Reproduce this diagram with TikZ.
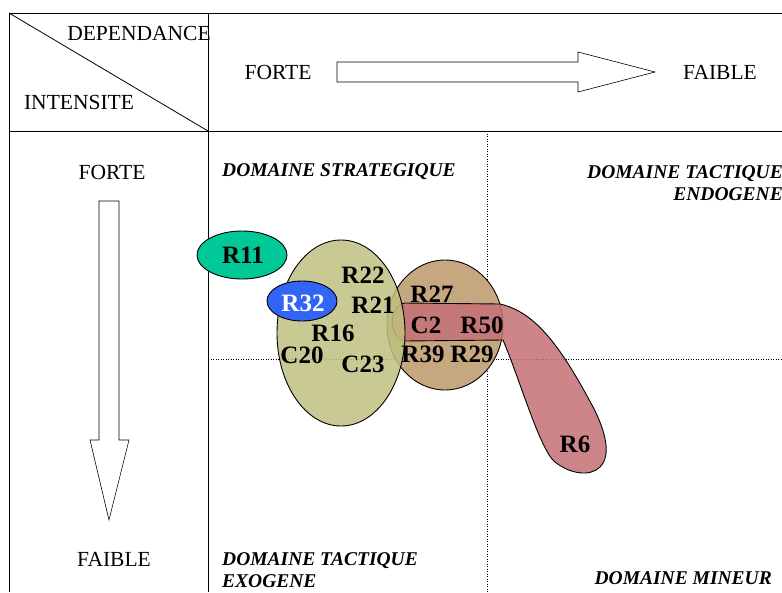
\documentclass[tikz,border=0pt]{standalone}
\usepackage{fontspec}
\setmainfont{Liberation Serif}
\usepackage{tikz}
\definecolor{olivezone}{RGB}{192,192,128}
\definecolor{brownzone}{RGB}{198,168,128}
\definecolor{redzone}{RGB}{196,112,118}
\definecolor{greenzone}{RGB}{0,200,150}
\definecolor{bluezone}{RGB}{50,100,245}
\tikzstyle{frame}=[line width=0.8pt]
\tikzstyle{grid}=[line width=0.5pt,dash pattern=on 1pt off 1.5pt]
\tikzstyle{head}=[inner sep=0pt,font=\fontsize{21.5}{25}\selectfont]
\tikzstyle{dom}=[inner sep=0pt,font=\fontsize{19.5}{22.5}\selectfont\bfseries\itshape]
\tikzstyle{var}=[inner sep=0pt,font=\fontsize{25}{28}\selectfont\bfseries]
\tikzstyle{area}=[draw=black,line width=0.9pt]
\tikzstyle{block}=[draw,line width=0.6pt,fill=white]

\begin{document}
\begin{tikzpicture}[x=1pt,y=-1pt]
        \useasboundingbox (0,0) rectangle (782,592);
        % table
        \draw[frame] (782,13) -- (9,13) -- (9,592);
        \draw[frame] (208,13) -- (208,592);
        \draw[frame] (9,131) -- (782,131);
        \draw[frame] (9,13) -- (208,131);
        \draw[grid] (487,131) -- (487,592);
        \draw[grid] (208,359) -- (782,359);
        % headers
        \node[head] (dep) at (139,33) {DEPENDANCE};
        \node[head] (int) at (79,102) {INTENSITE};
        \node[head] (forteH) at (278,72) {FORTE};
        \node[head] (faibleH) at (720,72) {FAIBLE};
        \node[head] (forteV) at (112,172) {FORTE};
        \node[head] (faibleV) at (114,559) {FAIBLE};
        \draw[block] (337,62) -- (578,62) -- (578,52) -- (655,72)
            -- (578,92) -- (578,82) -- (337,82) -- cycle;
        \draw[block] (99,201) -- (119,201) -- (119,440) -- (129,440)
            -- (109,520) -- (90,440) -- (99,440) -- cycle;
        % domains
        \node[dom, anchor=west] (strat) at (222,172) {DOMAINE STRATEGIQUE};
        \node[dom, anchor=east, align=right] (endo) at (783,183)
            {DOMAINE TACTIQUE\\ENDOGENE};
        \node[dom, anchor=west, align=left] (exo) at (222,570)
            {DOMAINE TACTIQUE\\EXOGENE};
        \node[dom, anchor=east] (mineur) at (772,578) {DOMAINE MINEUR};
        % zones
        \draw[area, fill=brownzone] (445,325) ellipse (58 and 65);
        \draw[area, fill=redzone, fill opacity=0.85]
            (405,303) -- (500,304)
            .. controls (535,312) and (560,345) .. (593,407)
            .. controls (605,430) and (612,455) .. (600,467)
            .. controls (590,477) and (570,474) .. (555,462)
            .. controls (540,450) and (520,380) .. (503,340)
            -- (405,341)
            .. controls (388,338) and (388,306) .. cycle;
        \draw[area, fill=olivezone, fill opacity=0.85] (341,333) ellipse (64 and 93);
        \draw[area, fill=greenzone] (242,255) ellipse (45 and 24);
        \draw[area, fill=bluezone] (302,301) ellipse (35 and 20);
        % variables
        \node[var] (r11) at (243,255) {R11};
        \node[var] (r22) at (363,275) {R22};
        \node[var, text=white] (r32) at (303,303) {R32};
        \node[var] (r21) at (373,305) {R21};
        \node[var] (r27) at (432,294) {R27};
        \node[var] (c2) at (426,325) {C2};
        \node[var] (r50) at (482,325) {R50};
        \node[var] (r16) at (333,333) {R16};
        \node[var] (c20) at (302,355) {C20};
        \node[var] (c23) at (363,364) {C23};
        \node[var] (r39) at (423,354) {R39};
        \node[var] (r29) at (472,354) {R29};
        \node[var] (r6) at (575,444) {R6};
    \end{tikzpicture}
\end{document}
